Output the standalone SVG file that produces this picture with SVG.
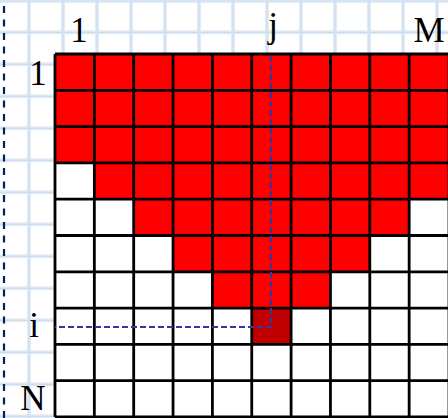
<svg xmlns="http://www.w3.org/2000/svg" width="448" height="418" viewBox="0 0 448 418">
<style>
.bg{stroke:#e1ebf6;stroke-width:4;fill:none}
.bgc{stroke:#cddeee;stroke-width:1.2;fill:none}
.r{fill:#ff0000}
.w{fill:#ffffff}
.g{stroke:#000;stroke-width:2.8;fill:none}
.lbl{font-family:"Liberation Serif","Times New Roman",serif;font-size:35px;fill:#000;text-anchor:middle}
.guide{stroke:#36369c;stroke-width:2.2;stroke-dasharray:6,3;fill:none}
</style>
<rect width="448" height="418" fill="#ffffff"/>
<g id="background-grid">
<path class="bg" d="M29,0V418M63,0V418M97,0V418M131,0V418M165,0V418M199,0V418M233,0V418M267,0V418M301,0V418M335,0V418M369,0V418M403,0V418M437,0V418M0,1H448M0,32.3H448M0,64.3H448M0,96.3H448M0,128.3H448M0,160.3H448M0,192.3H448M0,224.3H448M0,256.3H448M0,288.3H448M0,320.3H448M0,352.3H448M0,384.3H448M0,416.3H448"/>
<path class="bgc" d="M29,0V418M63,0V418M97,0V418M131,0V418M165,0V418M199,0V418M233,0V418M267,0V418M301,0V418M335,0V418M369,0V418M403,0V418M437,0V418M0,1H448M0,32.3H448M0,64.3H448M0,96.3H448M0,128.3H448M0,160.3H448M0,192.3H448M0,224.3H448M0,256.3H448M0,288.3H448M0,320.3H448M0,352.3H448M0,384.3H448M0,416.3H448"/>
</g>
<line id="left-dash" x1="4" y1="6" x2="4" y2="418" stroke="#002060" stroke-width="2.2" stroke-dasharray="7,6.5"/>
<g id="matrix">
<rect class="w" x="55" y="54" width="394" height="363"/>
<rect class="r" x="55" y="54" width="394" height="108.9"/>
<rect class="r" x="94.35" y="162.9" width="354.65" height="36.3"/>
<rect class="r" x="133.7" y="199.2" width="275.45" height="36.3"/>
<rect class="r" x="173.05" y="235.5" width="196.75" height="36.3"/>
<rect class="r" x="212.4" y="271.8" width="118.05" height="36.3"/>
<rect id="cell-ij" x="251.75" y="308.1" width="39.35" height="36.3" fill="#c00000"/>
<path class="g" d="M55,54V417M94.35,54V417M133.7,54V417M173.05,54V417M212.4,54V417M251.75,54V417M291.1,54V417M330.45,54V417M369.8,54V417M409.15,54V417M449,54V417M55,54H449M55,90.3H449M55,126.6H449M55,162.9H449M55,199.2H449M55,235.5H449M55,271.8H449M55,308.1H449M55,344.4H449M55,380.7H449M55,417H449"/>
</g>
<g id="connectors">
<path class="guide" d="M271,56V327H55"/>
</g>
<g id="labels">
<text class="lbl" x="79" y="42">1</text>
<text class="lbl" x="273" y="37">j</text>
<text class="lbl" x="429" y="42">M</text>
<text class="lbl" x="38" y="85">1</text>
<text class="lbl" x="34" y="337">i</text>
<text class="lbl" x="33" y="410">N</text>
</g>
</svg>
